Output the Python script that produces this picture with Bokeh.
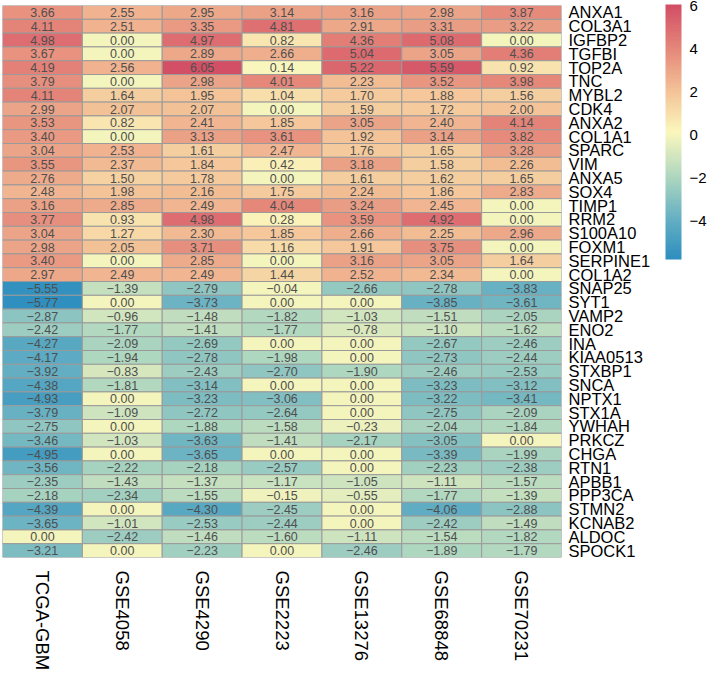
import math
import numpy as np
from bokeh.plotting import figure
from bokeh.models import ColumnDataSource, LinearColorMapper, ColorBar, FixedTicker
from bokeh.transform import transform
from bokeh.core.properties import value
from bokeh.embed import file_html
from bokeh.resources import INLINE

# ---------------- data ----------------
genes = ["ANXA1", "COL3A1", "IGFBP2", "TGFBI", "TOP2A", "TNC", "MYBL2", "CDK4", "ANXA2", "COL1A1",
         "SPARC", "VIM", "ANXA5", "SOX4", "TIMP1", "RRM2", "S100A10", "FOXM1", "SERPINE1", "COL1A2",
         "SNAP25", "SYT1", "VAMP2", "ENO2", "INA", "KIAA0513", "STXBP1", "SNCA", "NPTX1", "STX1A",
         "YWHAH", "PRKCZ", "CHGA", "RTN1", "APBB1", "PPP3CA", "STMN2", "KCNAB2", "ALDOC", "SPOCK1"]

datasets = ["TCGA-GBM", "GSE4058", "GSE4290", "GSE2223", "GSE13276", "GSE68848", "GSE70231"]

tcga_gbm = [3.66, 4.11, 4.98, 3.67, 4.19, 3.79, 4.11, 2.99, 3.53, 3.40, 3.04, 3.55, 2.76, 2.48, 3.16,
            3.77, 3.04, 2.98, 3.40, 2.97, -5.55, -5.77, -2.87, -2.42, -4.27, -4.17, -3.92, -4.38, -4.93,
            -3.79, -2.75, -3.46, -4.95, -3.56, -2.35, -2.18, -4.39, -3.65, 0.00, -3.21]
gse4058 = [2.55, 2.51, 0.00, 0.00, 2.56, 0.00, 1.64, 2.07, 0.82, 0.00, 2.53, 2.37, 1.50, 1.98, 2.85,
           0.93, 1.27, 2.05, 0.00, 2.49, -1.39, 0.00, -0.96, -1.77, -2.09, -1.94, -0.83, -1.81, 0.00,
           -1.09, 0.00, -1.03, 0.00, -2.22, -1.43, -2.34, 0.00, -1.01, -2.42, 0.00]
gse4290 = [2.95, 3.35, 4.97, 2.89, 6.05, 2.98, 1.95, 2.07, 2.41, 3.13, 1.61, 1.84, 1.78, 2.16, 2.49,
           4.98, 2.30, 3.71, 2.85, 2.49, -2.79, -3.73, -1.48, -1.41, -2.69, -2.78, -2.43, -3.14, -3.23,
           -2.72, -1.88, -3.63, -3.65, -2.18, -1.37, -1.55, -4.30, -2.53, -1.46, -2.23]
gse2223 = [3.14, 4.81, 0.82, 2.66, 0.14, 4.01, 1.04, 0.00, 1.85, 3.61, 2.47, 0.42, 0.00, 1.75, 4.04,
           0.28, 1.85, 1.16, 0.00, 1.44, -0.04, 0.00, -1.82, -1.77, 0.00, -1.98, -2.70, 0.00, -3.06,
           -2.64, -1.58, -1.41, 0.00, -2.57, -1.17, -0.15, -2.45, -2.44, -1.60, 0.00]
gse13276 = [3.16, 2.91, 4.36, 5.04, 5.22, 2.23, 1.70, 1.59, 3.05, 1.92, 1.76, 3.18, 1.61, 2.24, 3.24,
            3.59, 2.66, 1.91, 3.16, 2.52, -2.66, 0.00, -1.03, -0.78, 0.00, 0.00, -1.90, 0.00, 0.00,
            0.00, -0.23, -2.17, 0.00, 0.00, -1.05, -0.55, 0.00, 0.00, -1.11, -2.46]
gse68848 = [2.98, 3.31, 5.08, 3.05, 5.59, 3.52, 1.88, 1.72, 2.40, 3.14, 1.65, 1.58, 1.62, 1.86, 2.45,
            4.92, 2.25, 3.75, 3.05, 2.34, -2.78, -3.85, -1.51, -1.10, -2.67, -2.73, -2.46, -3.23, -3.22,
            -2.75, -2.04, -3.05, -3.39, -2.23, -1.11, -1.77, -4.06, -2.42, -1.54, -1.89]
gse70231 = [3.87, 3.22, 0.00, 4.36, 0.92, 3.98, 1.56, 2.00, 4.14, 3.82, 3.28, 2.26, 1.65, 2.83, 0.00,
            0.00, 2.96, 0.00, 1.64, 0.00, -3.83, -3.61, -2.05, -1.62, -2.46, -2.44, -2.53, -3.12, -3.41,
            -2.09, -1.84, 0.00, -1.99, -2.38, -1.57, -1.39, -2.88, -1.49, -1.82, -1.79]

columns = [tcga_gbm, gse4058, gse4290, gse2223, gse13276, gse68848, gse70231]
colorbar_ticks = [-4, -2, 0, 2, 4, 6]

# ---------------- palette ----------------
anchor_pos = [0.0, 0.15, 0.32, 0.5, 0.66, 0.83, 1.0]
anchor_col = ["#2F8FBF", "#62AEC3", "#ADD6C0", "#FBF7BD", "#F4C397", "#E5877A", "#D34F65"]
def _rgb(h):
    return [int(h[i:i + 2], 16) for i in (1, 3, 5)]
_arr = np.array([_rgb(c) for c in anchor_col], dtype=float)
_t = np.linspace(0, 1, 100)
palette = []
for t in _t:
    r = np.interp(t, anchor_pos, _arr[:, 0])
    g = np.interp(t, anchor_pos, _arr[:, 1])
    b = np.interp(t, anchor_pos, _arr[:, 2])
    palette.append("#%02x%02x%02x" % (int(round(r)), int(round(g)), int(round(b))))

# ---------------- source ----------------
xs, ys, vals, labels = [], [], [], []
for ds, col in zip(datasets, columns):
    for g, v in zip(genes, col):
        xs.append(ds)
        ys.append(g)
        vals.append(v)
        labels.append(("%.2f" % v).replace("-", "\u2212"))
src = ColumnDataSource(dict(x=xs, y=ys, v=vals, label=labels))

all_vals = [v for c in columns for v in c]
mapper = LinearColorMapper(palette=palette, low=min(all_vals), high=max(all_vals))

p = figure(x_range=datasets, y_range=list(reversed(genes)), width=709, height=673,
           output_backend="svg", toolbar_location=None, y_axis_location="right",
           min_border_left=2, min_border_top=5, min_border_bottom=115, min_border_right=141)
p.outline_line_color = None
p.grid.grid_line_color = None
p.background_fill_color = "white"
p.border_fill_color = "white"

p.rect(x="x", y="y", width=1, height=1, source=src,
       fill_color=transform("v", mapper), line_color="#9A9A9A", line_width=1)
p.text(x="x", y="y", text="label", source=src, text_align="center", text_baseline="middle",
       text_font=value("Liberation Sans"), text_font_size="12.5px", text_color="#4F4F4F")

for ax in (p.xaxis[0], p.yaxis[0]):
    ax.axis_line_color = None
    ax.major_tick_line_color = None
    ax.minor_tick_line_color = None
    ax.major_label_text_font = "Liberation Sans"
    ax.major_label_text_color = "black"

p.xaxis.major_label_orientation = -math.pi / 2
p.xaxis.major_label_text_baseline = "middle"
p.xaxis.major_label_text_font_size = "18.5px"
p.xaxis.major_label_standoff = 7
p.yaxis.major_label_text_font_size = "16.5px"
p.yaxis.major_label_standoff = 1

cb = ColorBar(color_mapper=mapper, width=16, height=255, location=(12, 298),
              padding=0, margin=0, ticker=FixedTicker(ticks=colorbar_ticks),
              major_tick_line_color=None, bar_line_color=None,
              major_label_text_font="Liberation Sans", major_label_text_font_size="15px",
              major_label_text_color="black", label_standoff=8,
              major_label_overrides={-4: "\u22124", -2: "\u22122"},
              background_fill_color=None, border_line_color=None)
p.add_layout(cb, "right")

open("out.html", "w").write(file_html(p, INLINE))
